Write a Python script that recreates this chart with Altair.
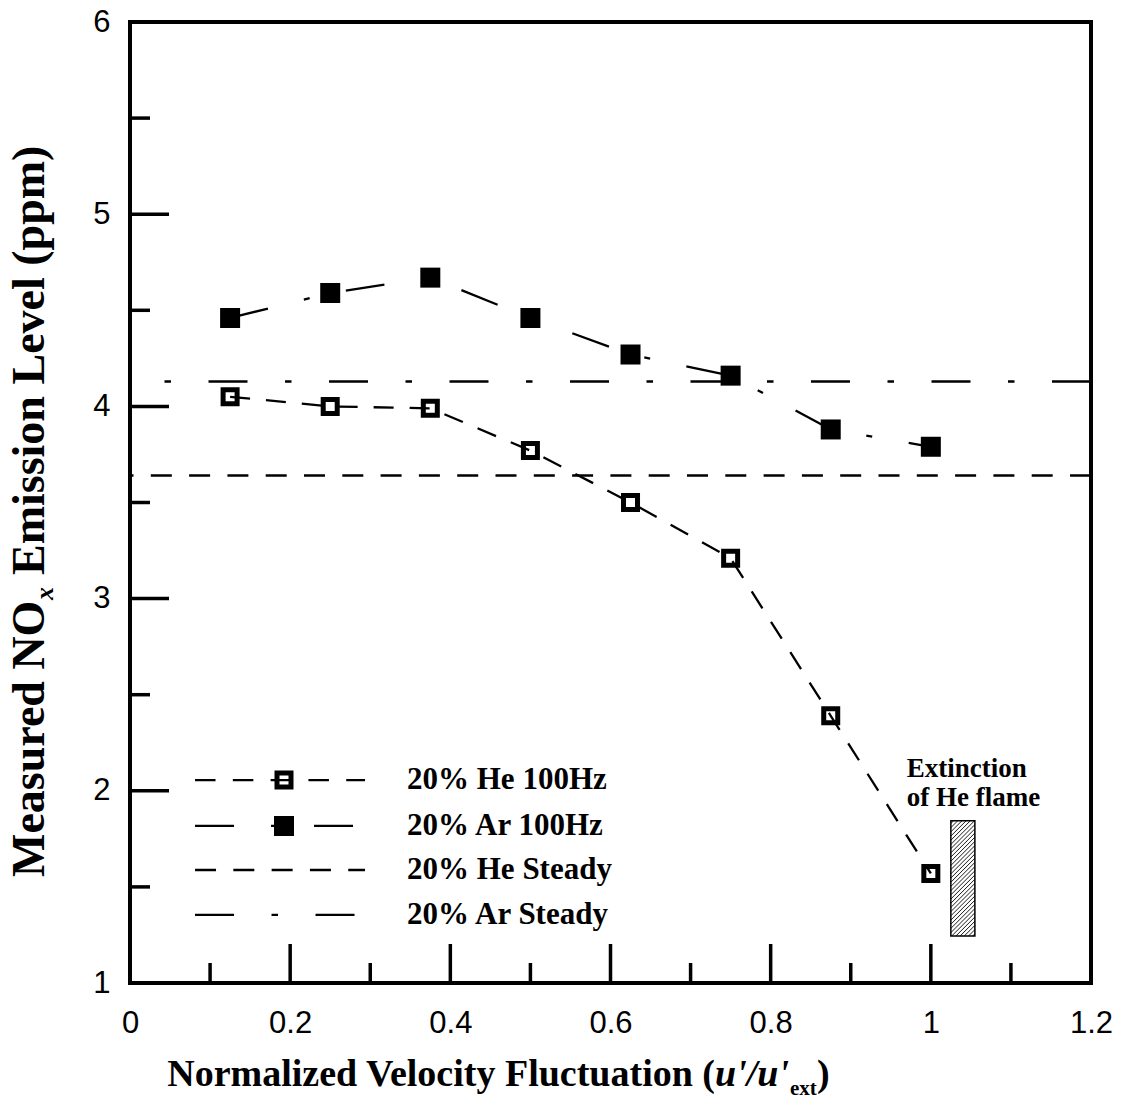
import altair as alt
import pandas as pd

# ---------------- data ----------------
x_vals = [0.125, 0.25, 0.375, 0.5, 0.625, 0.75, 0.875, 1.0]
he_100hz = [4.05, 4.00, 3.99, 3.77, 3.50, 3.21, 2.39, 1.57]
ar_100hz = [4.46, 4.59, 4.67, 4.46, 4.27, 4.16, 3.88, 3.79]
he_steady = [3.64]
ar_steady = [4.13]

x_tick_labels = [0, 0.2, 0.4, 0.6, 0.8, 1.0, 1.2]
y_tick_labels = [1, 2, 3, 4, 5, 6]
x_major = [0.2, 0.4, 0.6, 0.8, 1.0]
x_minor = [0.1, 0.3, 0.5, 0.7, 0.9, 1.1]
y_major = [2, 3, 4, 5]
y_minor = [1.5, 2.5, 3.5, 4.5, 5.5]

legend_labels = ["20% He 100Hz", "20% Ar 100Hz", "20% He Steady", "20% Ar Steady"]
legend_rows = [2.056, 1.817, 1.588, 1.354]
ext_text = ["Extinction", "of He flame"]
ext_text_y = [2.113, 1.9625]
ext_box = [1.025, 1.055, 1.245, 1.844]  # x0, x1, y0, y1

# ---------------- layout ----------------
W, H = 961, 961
XMAX, YMIN, YMAX = 1.2, 1, 6
pxu = W / XMAX
pyu = H / (YMAX - YMIN)

XS = alt.Scale(domain=[0, XMAX], nice=False, zero=False)
YS = alt.Scale(domain=[YMIN, YMAX], nice=False, zero=False)
TICKFONT = "Liberation Sans Narrow, Arial Narrow, Liberation Sans, Arial, sans-serif"
SERIF = "Liberation Serif, Times New Roman, serif"

XA = alt.Axis(values=x_tick_labels, format="~g", ticks=False, domain=False, grid=False,
              labelPadding=25, labelFontSize=31, labelFont=TICKFONT, labelColor="black",
              labelFlush=False, labelOverlap=False, title=None)
YA = alt.Axis(values=y_tick_labels, format="~g", ticks=False, domain=False, grid=False,
              labelPadding=20, labelFontSize=31, labelFont=TICKFONT, labelColor="black",
              labelFlush=False, labelOverlap=False, title=None)


def X(f):
    return alt.X(f, type="quantitative", scale=XS, axis=XA)


def Y(f):
    return alt.Y(f, type="quantitative", scale=YS, axis=YA)


series = pd.DataFrame({"x": x_vals, "he": he_100hz, "ar": ar_100hz})

# steady reference lines
he_st = alt.Chart(pd.DataFrame({"y": he_steady})).mark_rule(
    color="black", strokeWidth=2.5, strokeDash=[21, 17.3]).encode(y=Y("y"))
ar_st = alt.Chart(pd.DataFrame({"y": ar_steady})).mark_rule(
    color="black", strokeWidth=2.5, strokeDash=[39, 37.5, 6.5, 37.5]).encode(y=Y("y"))

# series lines
he_line = alt.Chart(series).mark_line(color="black", strokeWidth=2.3, strokeDash=[20, 16]).encode(
    x=X("x"), y=Y("he"))
ar_line = alt.Chart(series).mark_line(color="black", strokeWidth=2.3, strokeDash=[39, 37, 6, 37]).encode(
    x=X("x"), y=Y("ar"))

he_pts = alt.Chart(series).mark_point(shape="square", filled=False, stroke="black", strokeWidth=5,
                                       size=196, opacity=1).encode(x=X("x"), y=Y("he"))
ar_pts = alt.Chart(series).mark_point(shape="square", filled=True, fill="black", size=400,
                                       opacity=1).encode(x=X("x"), y=Y("ar"))

# extinction box with hatching
bx0, bx1, by0, by1 = ext_box
bw = (bx1 - bx0) * pxu
bh = (by1 - by0) * pyu
hatch = []
step = 4.2
c = -bw + step / 2
while c < bh:
    u0 = max(0.0, -c)
    u1 = min(bw, bh - c)
    if u1 > u0:
        hatch.append({"x": bx0 + u0 / pxu, "y": by0 + (u0 + c) / pyu,
                      "x2": bx0 + u1 / pxu, "y2": by0 + (u1 + c) / pyu})
    c += step
hatch_df = pd.DataFrame(hatch)
hatch_layer = alt.Chart(hatch_df).mark_rule(color="black", strokeWidth=0.9).encode(
    x=X("x"), y=Y("y"), x2="x2", y2="y2")
box_df = pd.DataFrame({"x": [bx0], "x2": [bx1], "y": [by0], "y2": [by1]})
box_layer = alt.Chart(box_df).mark_rect(fill="white", stroke="black", strokeWidth=1.5).encode(
    x=X("x"), x2="x2", y=Y("y"), y2="y2")
ext_df = pd.DataFrame({"x": [0.970, 0.970], "y": ext_text_y, "t": ext_text})
ext_layer = alt.Chart(ext_df).mark_text(align="left", baseline="middle", font=SERIF,
                                        fontWeight="bold", fontSize=27, color="black").encode(
    x=X("x"), y=Y("y"), text="t:N")

# inward ticks
tick_len_major_x = 39 / pyu
tick_len_minor_x = 20 / pyu
tick_len_major_y = 39 / pxu
tick_len_minor_y = 20 / pxu
xt = pd.DataFrame({"x": x_major + x_minor,
                   "y": [YMIN] * (len(x_major) + len(x_minor)),
                   "y2": [YMIN + tick_len_major_x] * len(x_major) + [YMIN + tick_len_minor_x] * len(x_minor)})
yt = pd.DataFrame({"y": y_major + y_minor,
                   "x": [0.0] * (len(y_major) + len(y_minor)),
                   "x2": [tick_len_major_y] * len(y_major) + [tick_len_minor_y] * len(y_minor)})
xticks = alt.Chart(xt).mark_rule(color="black", strokeWidth=3.5).encode(x=X("x"), y=Y("y"), y2="y2")
yticks = alt.Chart(yt).mark_rule(color="black", strokeWidth=3.5).encode(y=Y("y"), x=X("x"), x2="x2")

# frame around the plot area
frame_df = pd.DataFrame({"x": [0.0], "x2": [XMAX], "y": [YMIN], "y2": [YMAX]})
frame = alt.Chart(frame_df).mark_rect(filled=False, stroke="black", strokeWidth=4).encode(
    x=X("x"), x2="x2", y=Y("y"), y2="y2")

# legend
lx0, lx1, lmk, ltx = 0.0812, 0.2935, 0.1923, 0.3459
dashes = [[20.5, 17.3], [39, 37, 6, 37], [21, 17.3], [39, 37.5, 6.5, 37.5]]
legend_layers = []
for i, lab in enumerate(legend_labels):
    ldf = pd.DataFrame({"x": [lx0, lx1], "y": [legend_rows[i]] * 2})
    legend_layers.append(alt.Chart(ldf).mark_line(color="black", strokeWidth=2.3,
                                                   strokeDash=dashes[i]).encode(x=X("x"), y=Y("y")))
mk_he = pd.DataFrame({"x": [lmk], "y": [legend_rows[0]]})
mk_ar = pd.DataFrame({"x": [lmk], "y": [legend_rows[1]]})
legend_layers.append(alt.Chart(mk_he).mark_point(shape="square", filled=False, stroke="black",
                                                  strokeWidth=5, size=196, opacity=1).encode(x=X("x"), y=Y("y")))
legend_layers.append(alt.Chart(mk_ar).mark_point(shape="square", filled=True, fill="black",
                                                  size=400, opacity=1).encode(x=X("x"), y=Y("y")))
lt_df = pd.DataFrame({"x": [ltx] * 4, "y": legend_rows, "t": legend_labels})
legend_layers.append(alt.Chart(lt_df).mark_text(align="left", baseline="middle", font=SERIF,
                                                fontWeight="bold", fontSize=31, color="black").encode(
    x=X("x"), y=Y("y"), text="t:N"))

# axis titles composed of text pieces (for italic / subscript parts)
one = pd.DataFrame({"a": [0]})


def piece(txt, x, y, size, italic=False, align="left", angle=0):
    kw = dict(align=align, baseline="alphabetic", font=SERIF, fontWeight="bold",
              fontSize=size, color="black")
    if italic:
        kw["fontStyle"] = "italic"
    if angle:
        kw["angle"] = angle
    return alt.Chart(one).mark_text(**kw).encode(x=alt.value(x), y=alt.value(y), text=alt.value(txt))


XT_Y = 1064
xtitle = [
    piece("Normalized Velocity Fluctuation (", 585, XT_Y, 38, align="right"),
    piece("u'/u'", 585, XT_Y, 38, italic=True),
    piece("ext", 660, XT_Y + 9, 21),
    piece(")", 687, XT_Y, 38),
]
YT_X = -86
ytitle = [
    piece("Measured NO", YT_X, 855, 46, angle=270),
    piece("x", YT_X + 9, 578, 26, italic=True, angle=270),
    piece("Emission Level (ppm)", YT_X, 553, 46, angle=270),
]

chart = alt.layer(
    he_st, ar_st, box_layer, hatch_layer, he_line, ar_line, he_pts, ar_pts,
    xticks, yticks, frame, ext_layer, *legend_layers, *xtitle, *ytitle
).properties(
    width=W, height=H,
    autosize=alt.AutoSizeParams(type="none"),
    padding={"left": 130, "top": 22, "right": 34, "bottom": 120},
).configure_view(strokeWidth=0).configure(background="white")

chart.save("out.html", embed_options={"renderer": "svg", "actions": False})
